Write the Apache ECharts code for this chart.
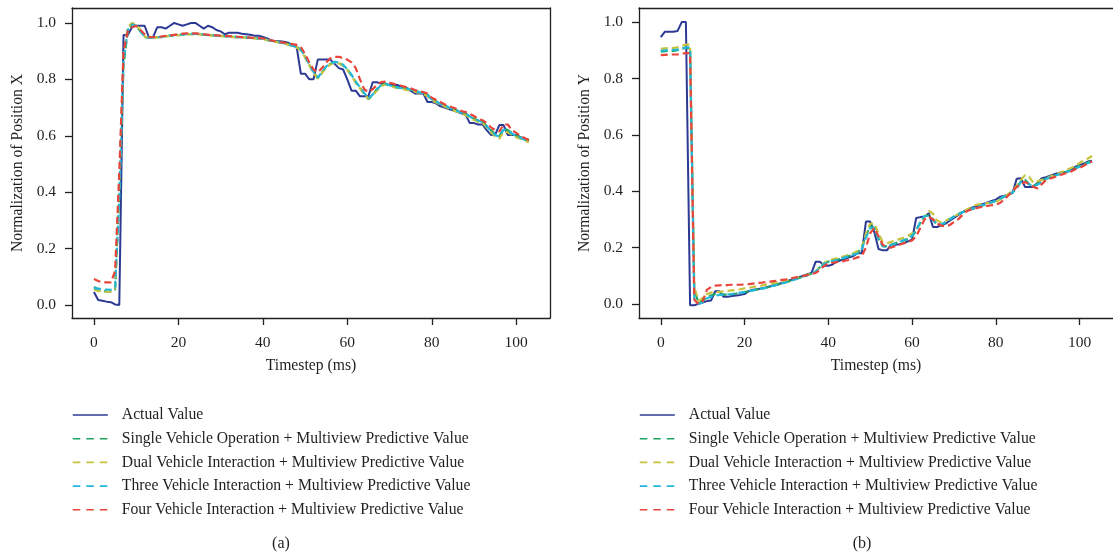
<!DOCTYPE html>
<html><head><meta charset="utf-8">
<script src="https://cdn.jsdelivr.net/npm/echarts@6/dist/echarts.min.js"></script>
<style>html,body{margin:0;padding:0;background:#fff}#c{width:1113px;height:555px}</style>
</head><body><div id="c"></div>
<script>
// ---- data (timestep index = array position, 0..103) ----
const seriesNames = ['Actual Value','Single Vehicle Operation + Multiview Predictive Value','Dual Vehicle Interaction + Multiview Predictive Value','Three Vehicle Interaction + Multiview Predictive Value','Four Vehicle Interaction + Multiview Predictive Value'];
const xTicks = [0,20,40,60,80,100];
const yTicks = [0,0.2,0.4,0.6,0.8,1.0];

const actualX = [0.046,0.018,0.015,0.012,0.010,0.002,0.000,0.957,0.957,0.985,
0.990,0.990,0.990,0.950,0.950,0.985,0.985,0.980,0.990,1.000,
0.995,0.990,0.995,1.000,1.000,0.990,0.980,0.990,0.985,0.975,
0.970,0.960,0.965,0.965,0.965,0.962,0.960,0.958,0.955,0.955,
0.950,0.945,0.938,0.935,0.935,0.933,0.930,0.920,0.915,0.820,
0.820,0.800,0.800,0.870,0.870,0.870,0.870,0.855,0.840,0.835,
0.800,0.760,0.760,0.740,0.740,0.740,0.790,0.790,0.785,0.785,
0.780,0.780,0.780,0.770,0.770,0.760,0.750,0.750,0.750,0.720,
0.720,0.715,0.705,0.700,0.695,0.690,0.685,0.680,0.675,0.645,
0.645,0.640,0.640,0.620,0.603,0.603,0.638,0.638,0.603,0.603,
0.603,0.595,0.590,0.585];
const singleX = [0.064,0.055,0.050,0.048,0.047,0.055,0.400,0.850,0.970,0.995,
0.990,0.970,0.950,0.948,0.948,0.950,0.950,0.952,0.955,0.956,
0.957,0.958,0.960,0.960,0.961,0.960,0.958,0.957,0.956,0.955,
0.954,0.953,0.952,0.951,0.950,0.949,0.948,0.947,0.946,0.945,
0.944,0.940,0.937,0.934,0.932,0.928,0.925,0.920,0.915,0.905,
0.880,0.852,0.825,0.805,0.825,0.845,0.855,0.862,0.858,0.850,
0.835,0.815,0.790,0.770,0.750,0.730,0.745,0.765,0.780,0.785,
0.780,0.775,0.772,0.770,0.768,0.765,0.760,0.755,0.752,0.745,
0.730,0.722,0.715,0.708,0.700,0.695,0.690,0.683,0.678,0.670,
0.660,0.655,0.650,0.635,0.620,0.605,0.598,0.625,0.620,0.610,
0.600,0.595,0.588,0.580];
const dualX = [0.055,0.050,0.048,0.047,0.047,0.060,0.420,0.880,0.985,1.000,
0.995,0.975,0.952,0.947,0.947,0.949,0.950,0.952,0.954,0.956,
0.957,0.958,0.959,0.960,0.960,0.959,0.958,0.957,0.955,0.954,
0.953,0.952,0.951,0.950,0.949,0.948,0.947,0.946,0.945,0.944,
0.943,0.939,0.936,0.933,0.930,0.927,0.923,0.918,0.913,0.902,
0.878,0.850,0.822,0.803,0.822,0.842,0.853,0.860,0.856,0.848,
0.833,0.812,0.788,0.768,0.748,0.732,0.742,0.760,0.776,0.782,
0.777,0.772,0.769,0.766,0.763,0.760,0.756,0.752,0.748,0.740,
0.725,0.718,0.711,0.704,0.697,0.690,0.685,0.679,0.673,0.665,
0.656,0.650,0.645,0.630,0.612,0.598,0.590,0.615,0.612,0.603,
0.595,0.590,0.583,0.577];
const threeX = [0.060,0.058,0.055,0.055,0.054,0.060,0.380,0.860,0.975,0.995,
0.990,0.972,0.951,0.948,0.948,0.950,0.951,0.953,0.955,0.957,
0.958,0.959,0.960,0.961,0.961,0.960,0.959,0.957,0.956,0.955,
0.954,0.953,0.952,0.951,0.950,0.949,0.948,0.947,0.946,0.945,
0.944,0.940,0.937,0.934,0.931,0.928,0.924,0.919,0.914,0.906,
0.882,0.853,0.826,0.806,0.826,0.846,0.856,0.862,0.860,0.852,
0.836,0.816,0.792,0.772,0.752,0.733,0.746,0.764,0.779,0.784,
0.779,0.774,0.771,0.769,0.767,0.764,0.759,0.754,0.751,0.744,
0.729,0.721,0.714,0.707,0.700,0.694,0.689,0.682,0.677,0.669,
0.659,0.654,0.649,0.634,0.618,0.603,0.597,0.622,0.618,0.608,
0.599,0.593,0.586,0.579];
const fourX = [0.092,0.085,0.080,0.080,0.080,0.120,0.470,0.900,0.970,0.985,
0.990,0.975,0.960,0.950,0.950,0.950,0.952,0.954,0.956,0.958,
0.960,0.962,0.963,0.963,0.963,0.962,0.960,0.958,0.957,0.956,
0.955,0.954,0.953,0.952,0.951,0.950,0.949,0.948,0.947,0.946,
0.945,0.942,0.938,0.935,0.932,0.930,0.928,0.925,0.922,0.915,
0.890,0.860,0.835,0.825,0.840,0.860,0.875,0.880,0.880,0.875,
0.870,0.860,0.840,0.800,0.765,0.755,0.765,0.780,0.790,0.792,
0.788,0.784,0.780,0.776,0.772,0.768,0.762,0.758,0.755,0.750,
0.735,0.728,0.720,0.712,0.705,0.700,0.695,0.688,0.684,0.678,
0.670,0.660,0.655,0.645,0.630,0.620,0.615,0.640,0.640,0.620,
0.610,0.600,0.592,0.585];

const actualY = [0.947,0.966,0.966,0.966,0.968,1.000,1.000,-0.005,-0.005,0.000,
0.005,0.010,0.012,0.045,0.045,0.025,0.025,0.028,0.030,0.032,
0.035,0.045,0.050,0.052,0.055,0.058,0.062,0.066,0.070,0.075,
0.080,0.085,0.090,0.095,0.100,0.105,0.110,0.150,0.150,0.135,
0.135,0.140,0.150,0.155,0.160,0.165,0.170,0.180,0.180,0.292,
0.292,0.255,0.195,0.190,0.190,0.210,0.210,0.212,0.215,0.222,
0.228,0.305,0.308,0.310,0.322,0.273,0.273,0.280,0.285,0.295,
0.305,0.315,0.325,0.333,0.340,0.345,0.350,0.355,0.360,0.365,
0.370,0.380,0.383,0.388,0.393,0.444,0.446,0.415,0.415,0.415,
0.430,0.446,0.450,0.455,0.460,0.465,0.468,0.468,0.475,0.487,
0.492,0.498,0.505,0.508];
const singleY = [0.895,0.897,0.898,0.898,0.900,0.905,0.910,0.905,0.050,0.005,
0.010,0.025,0.030,0.035,0.035,0.033,0.033,0.035,0.037,0.040,
0.042,0.045,0.048,0.051,0.054,0.057,0.061,0.065,0.069,0.073,
0.077,0.082,0.087,0.092,0.097,0.102,0.108,0.115,0.130,0.145,
0.150,0.153,0.156,0.160,0.165,0.170,0.175,0.180,0.200,0.240,
0.275,0.270,0.230,0.205,0.205,0.210,0.215,0.220,0.225,0.230,
0.240,0.260,0.290,0.310,0.315,0.300,0.280,0.280,0.290,0.300,
0.310,0.318,0.325,0.330,0.335,0.340,0.345,0.350,0.355,0.360,
0.365,0.372,0.380,0.388,0.395,0.410,0.435,0.440,0.425,0.420,
0.425,0.435,0.445,0.450,0.455,0.460,0.465,0.470,0.475,0.482,
0.490,0.496,0.502,0.510];
const dualY = [0.905,0.907,0.908,0.908,0.910,0.915,0.920,0.920,0.060,0.010,
0.020,0.035,0.040,0.042,0.043,0.045,0.046,0.048,0.050,0.052,
0.055,0.057,0.060,0.063,0.065,0.068,0.071,0.074,0.077,0.080,
0.083,0.087,0.091,0.095,0.099,0.103,0.108,0.115,0.130,0.145,
0.155,0.158,0.162,0.166,0.170,0.175,0.180,0.188,0.200,0.250,
0.285,0.285,0.250,0.220,0.215,0.220,0.225,0.230,0.235,0.242,
0.250,0.265,0.285,0.310,0.330,0.320,0.295,0.290,0.295,0.302,
0.310,0.318,0.326,0.334,0.342,0.350,0.353,0.355,0.358,0.360,
0.362,0.370,0.380,0.390,0.400,0.420,0.440,0.457,0.450,0.430,
0.435,0.440,0.445,0.452,0.458,0.464,0.470,0.476,0.482,0.490,
0.500,0.508,0.516,0.525];
const threeY = [0.898,0.900,0.901,0.901,0.902,0.906,0.910,0.910,0.020,0.000,
0.005,0.020,0.025,0.030,0.032,0.033,0.034,0.035,0.037,0.040,
0.042,0.045,0.048,0.051,0.054,0.057,0.061,0.065,0.069,0.073,
0.077,0.082,0.087,0.092,0.097,0.102,0.108,0.115,0.128,0.142,
0.148,0.152,0.156,0.160,0.165,0.170,0.175,0.180,0.195,0.235,
0.270,0.268,0.232,0.205,0.202,0.208,0.214,0.220,0.226,0.232,
0.242,0.262,0.290,0.312,0.312,0.298,0.282,0.282,0.290,0.300,
0.310,0.318,0.325,0.331,0.336,0.341,0.346,0.351,0.356,0.361,
0.366,0.373,0.381,0.389,0.396,0.412,0.432,0.436,0.424,0.418,
0.423,0.433,0.443,0.449,0.454,0.459,0.464,0.469,0.474,0.480,
0.487,0.493,0.499,0.505];
const fourY = [0.883,0.884,0.885,0.885,0.885,0.888,0.890,0.890,0.015,0.000,
0.010,0.050,0.060,0.065,0.066,0.067,0.067,0.068,0.068,0.068,
0.069,0.070,0.072,0.074,0.075,0.077,0.079,0.081,0.083,0.085,
0.087,0.090,0.093,0.096,0.099,0.102,0.106,0.110,0.120,0.135,
0.143,0.146,0.148,0.150,0.153,0.156,0.160,0.165,0.170,0.200,
0.250,0.270,0.240,0.210,0.200,0.200,0.205,0.210,0.215,0.220,
0.225,0.240,0.270,0.300,0.310,0.300,0.285,0.278,0.275,0.280,
0.290,0.300,0.315,0.328,0.335,0.338,0.342,0.345,0.348,0.350,
0.352,0.358,0.370,0.385,0.400,0.415,0.425,0.433,0.425,0.415,
0.410,0.425,0.440,0.445,0.450,0.455,0.460,0.465,0.470,0.478,
0.483,0.490,0.500,0.505];

const colors = ['#2c3a93','#1ea262','#c6c23c','#22b8da','#e8443a'];
const FONT = 'Liberation Serif';
const FS = 15.5;
const FSN = 15.7;
const TXT = '#231f20';

const panelX = [actualX, singleX, dualX, threeX, fourX];
const panelY = [actualY, singleY, dualY, threeY, fourY];

function mkSeries(arrs, gi){
  return arrs.map((arr, k) => ({
    name: seriesNames[k], type: 'line', xAxisIndex: gi, yAxisIndex: gi,
    symbol: 'none', animation: false, z: 2 + k,
    data: arr.map((v, i) => [i, v]),
    lineStyle: { color: colors[k], width: k === 0 ? 2 : 2.2, type: k === 0 ? 'solid' : [7, 4] },
    itemStyle: { color: colors[k] }
  }));
}

const frameLine = { show: true, onZero: false, lineStyle: { color: TXT, width: 1.3 } };
function xAx(gi){
  return { type: 'value', gridIndex: gi, min: -5.2, max: 108, position: 'bottom',
    name: 'Timestep (ms)', nameLocation: 'middle', nameGap: 40,
    nameTextStyle: { fontFamily: FONT, fontSize: FSN, color: TXT },
    axisLine: frameLine,
    axisTick: { show: true, inside: false, length: 7, lineStyle: { color: TXT, width: 1.3 }, customValues: xTicks },
    axisLabel: { fontFamily: FONT, fontSize: FS, color: TXT, margin: 17, customValues: xTicks },
    splitLine: { show: false } };
}
function xTop(gi){
  return { type: 'value', gridIndex: gi, min: -5.2, max: 108, position: 'top',
    axisLine: frameLine, axisTick: { show: false }, axisLabel: { show: false }, splitLine: { show: false } };
}
function yAx(gi, name, mn, mx){
  return { type: 'value', gridIndex: gi, min: mn, max: mx, position: 'left',
    name: name, nameLocation: 'middle', nameGap: 46,
    nameTextStyle: { fontFamily: FONT, fontSize: FSN, color: TXT },
    axisLine: frameLine,
    axisTick: { show: true, length: 7, lineStyle: { color: TXT, width: 1.3 }, customValues: yTicks },
    axisLabel: { fontFamily: FONT, fontSize: FS, color: TXT, margin: 16, customValues: yTicks,
      formatter: v => v.toFixed(1) },
    splitLine: { show: false } };
}
function yRight(gi, mn, mx){
  return { type: 'value', gridIndex: gi, min: mn, max: mx, position: 'right',
    axisLine: frameLine, axisTick: { show: false }, axisLabel: { show: false }, splitLine: { show: false } };
}
function legend(left){
  return { orient: 'vertical', left: left, top: 407, padding: 0, itemWidth: 35, itemHeight: 14, itemGap: 7.7,
    selectedMode: false,
    itemStyle: { color: 'rgba(0,0,0,0)', borderWidth: 0, opacity: 0 },
    data: seriesNames.map((n, k) => ({ name: n,
      lineStyle: { color: colors[k], width: 1.6, type: k === 0 ? 'solid' : [7.5, 6] } })),
    textStyle: { fontFamily: FONT, fontSize: FSN, color: TXT, padding: [0, 0, 0, 9], lineHeight: 14 } };
}

const chart = echarts.init(document.getElementById('c'), null, { renderer: 'canvas' });
chart.setOption({
  backgroundColor: '#ffffff',
  animation: false,
  title: [
    { text: '(a)', left: 281, top: 536, textAlign: 'center', textStyle: { fontFamily: FONT, fontSize: 16, fontWeight: 'normal', color: TXT }, padding: 0 },
    { text: '(b)', left: 862, top: 536, textAlign: 'center', textStyle: { fontFamily: FONT, fontSize: 16, fontWeight: 'normal', color: TXT }, padding: 0 }
  ],
  grid: [
    { left: 72, top: 8, width: 478, height: 310, show: false },
    { left: 639, top: 8, width: 478, height: 310, show: false }
  ],
  xAxis: [xAx(0), xAx(1), xTop(0), xTop(1)],
  yAxis: [yAx(0, 'Normalization of Position X', -0.046, 1.053), yAx(1, 'Normalization of Position Y', -0.05, 1.05), yRight(0, -0.046, 1.053)],
  legend: [legend(72), legend(639)],
  series: [...mkSeries(panelX, 0), ...mkSeries(panelY, 1)]
});
</script></body></html>
